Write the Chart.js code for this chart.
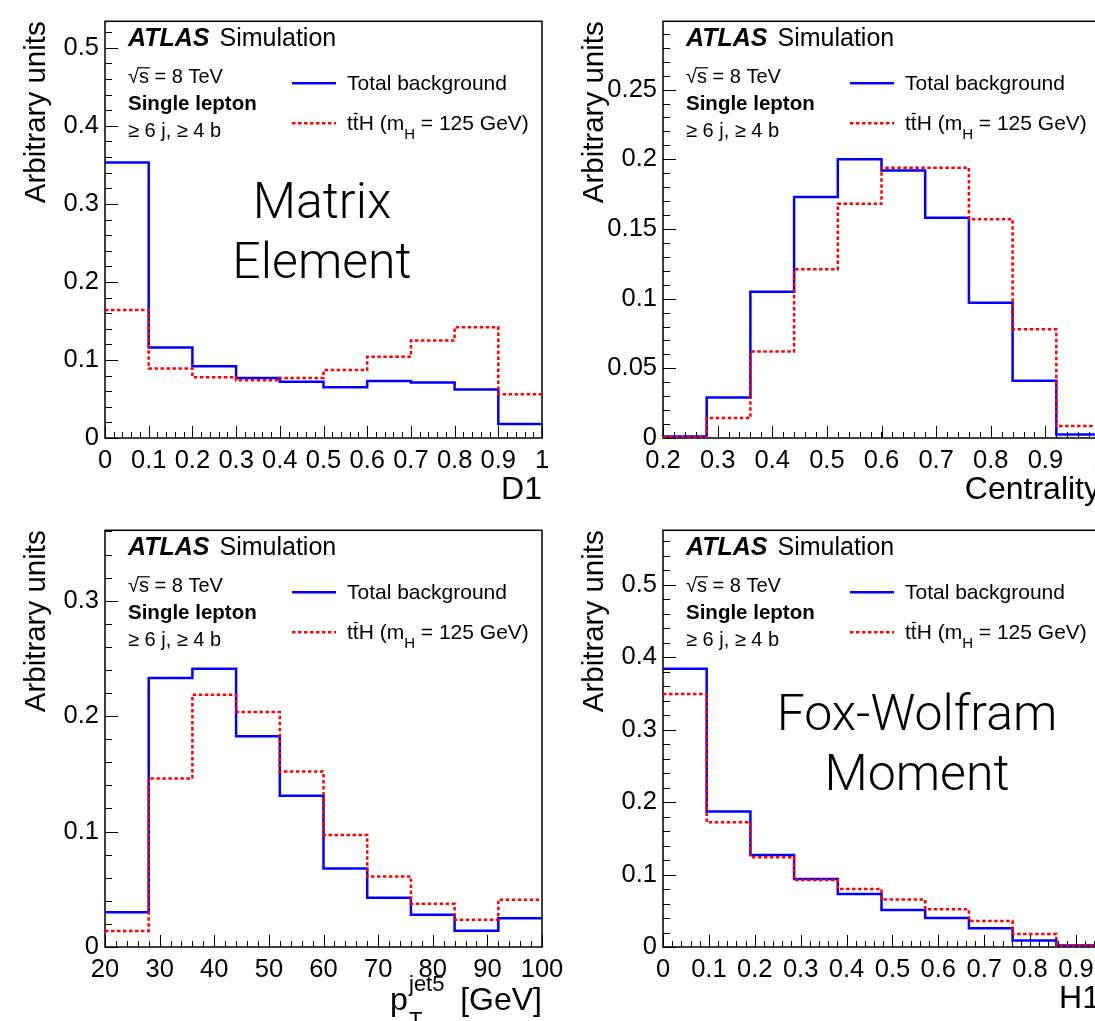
<!DOCTYPE html>
<html lang="en">
<head>
<meta charset="utf-8" />
<title>ATLAS Simulation – ttH single lepton discriminants</title>
<script src="https://cdn.jsdelivr.net/npm/chart.js@4.4.1/dist/chart.umd.min.js"></script>
<style>
  html, body { margin: 0; padding: 0; background: #fff; overflow: hidden; }
  body { width: 1095px; height: 1021px; position: relative; }
  canvas { position: absolute; display: block; }
</style>
</head>
<body>
<canvas id="cD1" width="600" height="512" style="left:0;top:0"></canvas>
<canvas id="cCen" width="560" height="512" style="left:558px;top:0"></canvas>
<canvas id="cPt" width="600" height="512" style="left:0;top:509px"></canvas>
<canvas id="cH1" width="560" height="512" style="left:558px;top:509px"></canvas>
<script>
// ---- data ----
// D1 (matrix element discriminant)
const d1Edges = [0, 0.1, 0.2, 0.3, 0.4, 0.5, 0.6, 0.7, 0.8, 0.9, 1]
const d1Bkg = [0.353, 0.116, 0.092, 0.077, 0.072, 0.065, 0.073, 0.071, 0.062, 0.018]
const d1Tth = [0.164, 0.089, 0.078, 0.074, 0.077, 0.087, 0.104, 0.125, 0.142, 0.056]
const d1XTicks = [0, 0.1, 0.2, 0.3, 0.4, 0.5, 0.6, 0.7, 0.8, 0.9, 1]
const d1YTicks = [0, 0.1, 0.2, 0.3, 0.4, 0.5]

// Centrality
const cenEdges = [0.2, 0.28, 0.36, 0.44, 0.52, 0.6, 0.68, 0.76, 0.84, 0.92, 1]
const cenBkg = [0.001, 0.029, 0.105, 0.173, 0.2, 0.192, 0.158, 0.097, 0.041, 0.0025]
const cenTth = [0.0005, 0.0143, 0.062, 0.121, 0.168, 0.194, 0.194, 0.157, 0.078, 0.0087]
const cenXTicks = [0.2, 0.3, 0.4, 0.5, 0.6, 0.7, 0.8, 0.9, 1]
const cenYTicks = [0, 0.05, 0.1, 0.15, 0.2, 0.25]

// pT of fifth jet [GeV]
const ptEdges = [20, 28, 36, 44, 52, 60, 68, 76, 84, 92, 100]
const ptBkg = [0.030, 0.233, 0.241, 0.1825, 0.131, 0.068, 0.0426, 0.028, 0.014, 0.025]
const ptTth = [0.0138, 0.146, 0.2185, 0.2036, 0.152, 0.097, 0.061, 0.0374, 0.0236, 0.041]
const ptXTicks = [20, 30, 40, 50, 60, 70, 80, 90, 100]
const ptYTicks = [0, 0.1, 0.2, 0.3]

// H1 (Fox-Wolfram moment)
const h1Edges = [0, 0.0952, 0.1905, 0.2857, 0.381, 0.4762, 0.5714, 0.6667, 0.7619, 0.8571, 0.9524]
const h1Bkg = [0.384, 0.187, 0.127, 0.094, 0.073, 0.051, 0.040, 0.026, 0.009, 0.002]
const h1Tth = [0.349, 0.172, 0.124, 0.0925, 0.080, 0.0655, 0.052, 0.036, 0.018, 0.0023]
const h1XTicks = [0, 0.1, 0.2, 0.3, 0.4, 0.5, 0.6, 0.7, 0.8, 0.9]
const h1YTicks = [0, 0.1, 0.2, 0.3, 0.4, 0.5]

const bkgLabel = 'Total background'
const tthLabel = 'tt̄H (mH = 125 GeV)'

// ---- style ----
const FONT = '"Liberation Sans", Helvetica, Arial, sans-serif'
const LIGHT = 'Roboto, "Liberation Sans", sans-serif'
const FRAME = { left: 105, right: 542, top: 20, bottom: 438 }

const f = (size, weight = 'normal', style = 'normal', fam = FONT) => `${style} ${weight} ${size}px ${fam}`

// histogram -> stepped points at bin left edges plus closing point
function steps(edges, vals) {
  const pts = vals.map((v, i) => ({ x: edges[i], y: v }))
  pts.push({ x: edges[edges.length - 1], y: vals[vals.length - 1] })
  return pts
}

// draws a run of text pieces; piece: {t, size, dy, bar}
function rich(ctx, x, y, pieces) {
  let cx = x
  for (const p of pieces) {
    ctx.font = f(p.size || 21)
    ctx.fillText(p.t, cx, y + (p.dy || 0))
    const w = ctx.measureText(p.t).width
    if (p.bar) {
      ctx.save()
      ctx.lineWidth = 1.3
      ctx.beginPath()
      ctx.moveTo(cx + 1, y - (p.size || 21) * 0.8)
      ctx.lineTo(cx + w - 1, y - (p.size || 21) * 0.8)
      ctx.stroke()
      ctx.restore()
    }
    cx += w
  }
  return cx
}

const rootStyle = {
  id: 'rootStyle',
  beforeDatasetsDraw(chart, args, o) {
    const { ctx, chartArea: a, scales: { x, y } } = chart
    ctx.save()
    ctx.strokeStyle = '#000'
    ctx.lineWidth = 1.5
    ctx.strokeRect(a.left, a.top, a.right - a.left, a.bottom - a.top)
    ctx.lineWidth = 1
    ctx.beginPath()
    const nx = Math.floor((x.max - x.min) / o.xMinor + 1e-6)
    for (let i = 0; i <= nx; i++) {
      const px = Math.round(x.getPixelForValue(x.min + i * o.xMinor)) + 0.5
      ctx.moveTo(px, a.bottom); ctx.lineTo(px, a.bottom - 6)
    }
    x.ticks.forEach(t => {
      const px = Math.round(x.getPixelForValue(t.value)) + 0.5
      ctx.moveTo(px, a.bottom); ctx.lineTo(px, a.bottom - 12)
    })
    const ny = Math.floor((y.max - y.min) / o.yMinor + 1e-6)
    for (let i = 0; i <= ny; i++) {
      const py = Math.round(y.getPixelForValue(y.min + i * o.yMinor)) + 0.5
      ctx.moveTo(a.left, py); ctx.lineTo(a.left + 7, py)
    }
    y.ticks.forEach(t => {
      const py = Math.round(y.getPixelForValue(t.value)) + 0.5
      ctx.moveTo(a.left, py); ctx.lineTo(a.left + 13, py)
    })
    ctx.stroke()
    ctx.restore()
  },
  afterDraw(chart, args, o) {
    const { ctx, chartArea: a } = chart
    ctx.save()
    ctx.fillStyle = '#000'
    ctx.strokeStyle = '#000'
    ctx.textBaseline = 'alphabetic'
    ctx.textAlign = 'left'
    const lx = a.left + 23
    // ATLAS label
    ctx.font = f(25, 'bold', 'italic')
    ctx.fillText('ATLAS', lx, a.top + 25)
    const aw = ctx.measureText('ATLAS').width
    ctx.font = f(25)
    ctx.fillText('Simulation', lx + aw + 10, a.top + 25)
    // sqrt(s)
    ctx.font = f(20)
    ctx.fillText('√s = 8 TeV', lx, a.top + 62)
    const rw = ctx.measureText('√').width
    const sw = ctx.measureText('s').width
    ctx.lineWidth = 1.2
    ctx.beginPath()
    ctx.moveTo(lx + rw - 1, a.top + 46.5)
    ctx.lineTo(lx + rw + sw + 1, a.top + 46.5)
    ctx.stroke()
    ctx.font = f(20.5, 'bold')
    ctx.fillText('Single lepton', lx, a.top + 89)
    ctx.font = f(20)
    ctx.fillText('≥ 6 j, ≥ 4 b', lx, a.top + 116)

    // legend, styled from the datasets
    const rows = [
      { ds: chart.data.datasets[0], y: a.top + 62, text: [{ t: bkgLabel }] },
      { ds: chart.data.datasets[1], y: a.top + 102,
        text: [{ t: 't' }, { t: 't', bar: true }, { t: 'H (m' }, { t: 'H', size: 15, dy: 9 }, { t: ' = 125 GeV)' }] }
    ]
    rows.forEach(r => {
      ctx.save()
      ctx.strokeStyle = r.ds.borderColor
      ctx.lineWidth = r.ds.borderWidth
      ctx.setLineDash(r.ds.borderDash || [])
      ctx.beginPath()
      ctx.moveTo(a.left + 187, r.y); ctx.lineTo(a.left + 231, r.y)
      ctx.stroke()
      ctx.restore()
      rich(ctx, a.left + 242, r.y + 7, r.text)
    })

    // big light caption
    if (o.caption) {
      ctx.font = f(50, '300', 'normal', LIGHT)
      ctx.textAlign = 'center'
      o.caption.forEach((line, i) => ctx.fillText(line, a.left + o.capX, a.top + o.capY[i]))
      ctx.textAlign = 'left'
    }
    // axis title with sub/superscripts
    if (o.ptTitle) {
      ctx.font = f(32)
      ctx.textAlign = 'right'
      ctx.fillText('[GeV]', a.right, a.bottom + 63)
      ctx.textAlign = 'left'
      ctx.fillText('p', a.left + 285, a.bottom + 63)
      ctx.font = f(22)
      ctx.fillText('jet5', a.left + 304, a.bottom + 44)
      ctx.fillText('T', a.left + 304, a.bottom + 80)
    }
    ctx.restore()
  }
}

function makeChart(id, edges, bkg, tth, xTicks, yTicks, xMin, xMax, yMax, xTitle, extra) {
  const canvas = document.getElementById(id)
  const W = canvas.width, H = canvas.height
  return new Chart(canvas, {
    type: 'line',
    data: {
      datasets: [
        { label: bkgLabel, data: steps(edges, bkg), borderColor: '#0000ff', borderWidth: 2.5,
          stepped: true, pointRadius: 0, fill: false, order: 1 },
        { label: tthLabel, data: steps(edges, tth), borderColor: '#ff0000', borderWidth: 2.5,
          borderDash: [3.5, 2.5], stepped: true, pointRadius: 0, fill: false, order: 0 }
      ]
    },
    options: {
      responsive: false,
      animation: false,
      events: [],
      layout: { padding: { left: 0, top: FRAME.top, right: W - FRAME.right, bottom: 0 } },
      plugins: {
        legend: { display: false },
        tooltip: { enabled: false },
        rootStyle: Object.assign({ xMinor: (xTicks[1] - xTicks[0]) / 5, yMinor: (yTicks[1] - yTicks[0]) / 5 }, extra)
      },
      scales: {
        x: {
          type: 'linear', min: xMin, max: xMax,
          afterBuildTicks: s => { s.ticks = xTicks.map(v => ({ value: v })) },
          afterFit: s => { s.height = H - FRAME.bottom },
          grid: { display: false, drawTicks: false }, border: { display: false },
          ticks: { autoSkip: false, maxRotation: 0, padding: 8, color: '#000',
            font: { family: FONT, size: 25.5 }, callback: v => String(v) },
          title: { display: !!xTitle, text: xTitle, align: 'end', color: '#000',
            font: { family: FONT, size: 32 }, padding: { top: 0, bottom: 3 } }
        },
        y: {
          type: 'linear', min: 0, max: yMax,
          afterBuildTicks: s => { s.ticks = yTicks.map(v => ({ value: v })) },
          afterFit: s => { s.width = FRAME.left },
          grid: { display: false, drawTicks: false }, border: { display: false },
          ticks: { padding: 6, color: '#000', font: { family: FONT, size: 25.5 }, callback: v => String(v) },
          title: { display: true, text: 'Arbitrary units', align: 'end', color: '#000',
            font: { family: FONT, size: 29.5 }, padding: { top: 19.5, bottom: 0 } }
        }
      }
    },
    plugins: [rootStyle]
  })
}

makeChart('cD1', d1Edges, d1Bkg, d1Tth, d1XTicks, d1YTicks, 0, 1, 0.534, 'D1',
  { caption: ['Matrix', 'Element'], capX: 217, capY: [197, 257] })
makeChart('cCen', cenEdges, cenBkg, cenTth, cenXTicks, cenYTicks, 0.2, 1, 0.299, 'Centrality', {})
makeChart('cPt', ptEdges, ptBkg, ptTth, ptXTicks, ptYTicks, 20, 100, 0.361, '', { ptTitle: true })
makeChart('cH1', h1Edges, h1Bkg, h1Tth, h1XTicks, h1YTicks, 0, 0.9524, 0.575, 'H1',
  { caption: ['Fox-Wolfram', 'Moment'], capX: 254, capY: [200, 260] })
</script>
</body>
</html>
